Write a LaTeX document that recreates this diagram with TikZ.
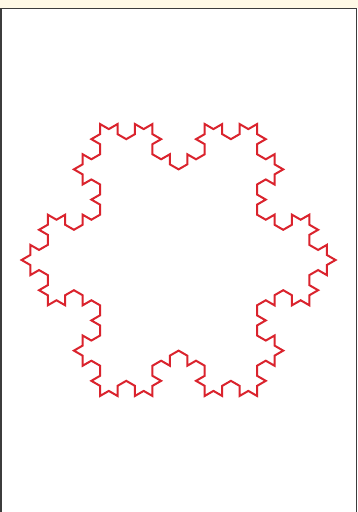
\documentclass[tikz,border=0pt]{standalone}
\usepackage{xcolor}
\definecolor{flakered}{RGB}{218, 35, 45}
\definecolor{framegray}{RGB}{60, 60, 60}
\definecolor{topcream}{RGB}{255, 249, 230}
\usepackage{tikz}
\usetikzlibrary{lindenmayersystems}

% Koch rule on a 30 degree turtle
\pgfdeclarelindenmayersystem{kochflake}{
  \rule{F -> F--F++++F--F}
}

\begin{document}
\begin{tikzpicture}[x=1pt, y=1pt]
      % Page and bounding box
      \useasboundingbox (0,0) rectangle (358,512);
      \fill[white] (0,0) rectangle (358,512);
      % Cream strip on top
      \fill[topcream] (0,503.5) rectangle (358,512);
      % Frame
      \draw[framegray, line width=1.6pt] (0.7,-5) -- (0.7,503.3) -- (356.4,503.3) -- (356.4,-5);
      % Snowflake, order 3, starting at the left tip
      \begin{scope}[shift={(21.6,252)}]
        \coordinate (lefttip) at (0,0);
        \draw[flakered, line width=2pt, line join=miter,
          l-system={kochflake, axiom=-F++++F++++F, order=3, step=10.07pt, angle=30}]
          (lefttip) l-system -- cycle;
      \end{scope}
    \end{tikzpicture}
\end{document}
